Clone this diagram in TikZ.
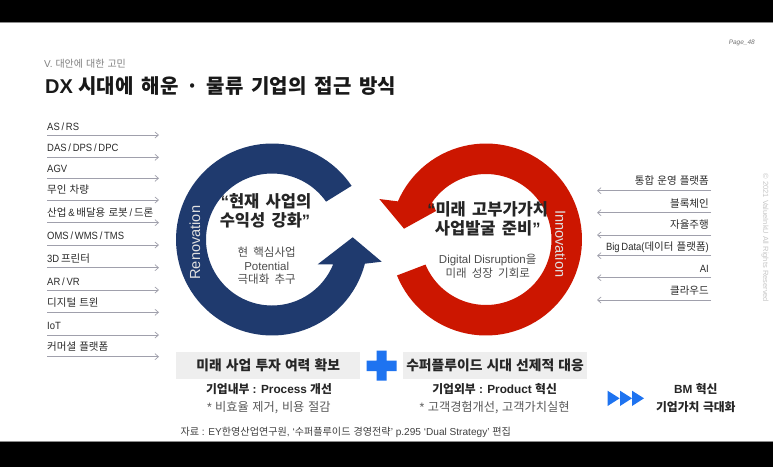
\documentclass[tikz,border=0pt]{standalone}
\usepackage{fontspec}
\setmainfont{Liberation Sans}
\newfontfamily\krf{Noto Sans CJK KR}
\newfontfamily\tightf[FakeStretch=0.9]{Liberation Sans}
\newcommand\krsp{.3}
\newcommand\K[1]{{\krf\spaceskip=\krsp em\relax #1}}
\newcommand\itemfont{\fontsize{10.5}{12}\selectfont\tightf\spaceskip=.17em\relax}
\newcommand\quotefont{\fontsize{16.5}{19}\selectfont\bfseries\renewcommand\krsp{.38}}
\newcommand\subfont{\fontsize{11.5}{13}\selectfont\renewcommand\krsp{.45}}
\newcommand\titlefont{\fontsize{20}{22}\selectfont\bfseries\renewcommand\krsp{.4}}
\usetikzlibrary{arrows.meta}
\definecolor{ringblue}{HTML}{1F3A6E}
\definecolor{ringred}{HTML}{CC1600}
\definecolor{plusblue}{HTML}{1E73F0}
\definecolor{boxgray}{HTML}{EEEEEE}
\definecolor{linegray}{HTML}{A0A0AC}
\definecolor{txt}{HTML}{2A2A2A}
\tikzset{
 x=1pt,y=-1pt,
 item/.style={inner sep=0pt,font=\itemfont,text=txt},
 conn/.style={draw=linegray,line width=0.7pt,-{Straight Barb[length=3.5pt,width=6pt]}},
 quote/.style={inner sep=0pt,font=\quotefont,text=black!85},
 sub/.style={inner sep=0pt,font=\subfont,text=black!70},
 ringlabel/.style={inner sep=0pt,font=\fontsize{14.6}{18}\selectfont,text=white!88!black},
 graybox/.style={fill=boxgray,draw=none,inner sep=0pt,font=\fontsize{13.8}{16}\selectfont\bfseries,text=black!85},
 head/.style={inner sep=0pt,font=\fontsize{11.8}{14}\selectfont\bfseries,text=black!85},
 note/.style={inner sep=0pt,font=\fontsize{12.2}{14}\selectfont,text=black!65},
}
\begin{document}
\begin{tikzpicture}
\useasboundingbox (0,0) rectangle (773,467);
\fill[white] (0,0) rectangle (773,467);
\fill[black] (0,0) rectangle (773,21.5);
\fill[black] (0,441.5) rectangle (773,467);
\fill[black!45] (0,21.5) rectangle (773,22);
\fill[black!45] (0,441) rectangle (773,441.5);
% header
\node[inner sep=0pt,anchor=west,text=black!50,font=\fontsize{10}{12}\selectfont] (sec) at (44,63.5) {V. \K{대안에 대한 고민}};
\node[inner sep=0pt,anchor=west,text=black!90,font=\titlefont] (title) at (45,86) {DX \K{시대에 해운 · 물류 기업의 접근 방식}};
\node[inner sep=0pt,anchor=east,text=black!55,font=\fontsize{6.5}{8}\selectfont\itshape] (page) at (755,43) {Page\_48};
\node[inner sep=0pt,rotate=-90,text=black!22,font=\fontsize{7.5}{9}\selectfont] (copy) at (765,238) {© 2021 ValueInkU All Rights Reserved};
% rings
\fill[ringblue] plot[domain=-34:-345.4,samples=90] ({272+96*cos(\x)},{239.5+96*sin(\x)})
  -- (381.7,261.7) -- (352.7,237.3) -- (317.7,264.3) -- (333.3,264.3)
  -- plot[domain=-338:-35,samples=90] ({272+66*cos(\x)},{239.5+66*sin(\x)}) -- cycle;
\fill[ringred] plot[domain=158:-156.6,samples=90] ({486+96*cos(\x)},{239.5+96*sin(\x)})
  -- (379.3,199) -- (404,228.7) -- (436,211) -- (432,202)
  -- plot[domain=-145.2:157.5,samples=90] ({486+65.5*cos(\x)},{239.5+65.5*sin(\x)}) -- cycle;
\node[ringlabel,rotate=90] (reno) at (195,242.7) {Renovation};
\node[ringlabel,rotate=-90] (inno) at (560.7,243.7) {Innovation};
% ring texts
\node[quote] (q1a) at (266,201.7) {“\K{현재 사업의}};
\node[quote] (q1b) at (265,220.7) {\K{수익성 강화}”};
\node[sub] (s1a) at (266.7,252) {\K{현 핵심사업}};
\node[sub] (s1b) at (266.7,266) {Potential};
\node[sub] (s1c) at (266.7,279) {\K{극대화 추구}};
\node[quote] (q2a) at (487.7,209.3) {“\K{미래 고부가가치}};
\node[quote] (q2b) at (487.7,228.7) {\K{사업발굴 준비}”};
\node[sub] (s2a) at (487.7,260) {Digital Disruption\K{을}};
\node[sub] (s2b) at (487.7,273.3) {\K{미래 성장 기회로}};
% left list
\foreach \i/\ty/\ay/\lab in {
 1/126.7/135/{AS / RS},
 2/148/157.3/{DAS / DPS / DPC},
 3/169/178.3/{AGV},
 4/190/200/{\K{무인 차량}},
 5/213/222.7/{\K{산업} \& \K{배달용 로봇} / \K{드론}},
 6/235.7/245/{OMS / WMS / TMS},
 7/259/267.7/{3D \K{프린터}},
 8/282/290/{AR / VR},
 9/303/312.3/{\K{디지털 트윈}},
 10/325.7/335/{IoT},
 11/346.7/356.7/{\K{커머셜 플랫폼}}}{
 \node[item,anchor=west] (L\i) at (47,\ty) {\lab};
 \coordinate (La\i) at (47,\ay);
 \coordinate (Lb\i) at (159,\ay);
 \draw[conn] (La\i) -- (Lb\i);
}
% right list
\foreach \i/\ty/\ay/\lab in {
 1/180.7/190.7/{\K{통합 운영 플랫폼}},
 2/203.3/212.7/{\K{블록체인}},
 3/225/235/{\K{자율주행}},
 4/247.3/255.7/{Big Data(\K{데이터 플랫폼})},
 5/269/277.7/{AI},
 6/290.7/300/{\K{클라우드}}}{
 \node[item,anchor=east] (R\i) at (709,\ty) {\lab};
 \coordinate (Ra\i) at (711,\ay);
 \coordinate (Rb\i) at (597,\ay);
 \draw[conn] (Ra\i) -- (Rb\i);
}
% bottom
\node[graybox,minimum width=183.6pt,minimum height=27.6pt] (b1) at (268.2,365.5) {\K{미래 사업 투자 여력 확보}};
\node[graybox,minimum width=183.7pt,minimum height=27.6pt] (b2) at (495,365.5) {\K{수퍼플루이드 시대 선제적 대응}};
\fill[plusblue] (376.5,350.7) -- (386.5,350.7) -- (386.5,360.5) -- (396.5,360.5) -- (396.5,371) -- (386.5,371) -- (386.5,380.7) -- (376.5,380.7) -- (376.5,371) -- (366.5,371) -- (366.5,360.5) -- (376.5,360.5) -- cycle;
\node[head] (h1) at (269,389) {\K{기업내부} : Process \K{개선}};
\node[note] (n1) at (268.8,407.7) {* \K{비효율 제거, 비용 절감}};
\node[head] (h2) at (494.6,389) {\K{기업외부} : Product \K{혁신}};
\node[note] (n2) at (494.6,407.7) {* \K{고객경험개선, 고객가치실현}};
\foreach \xx in {607.6,620,632}{
 \fill[plusblue] (\xx,390.7) -- (\xx+12,398.3) -- (\xx,406) -- cycle;
}
\node[head] (g1) at (695.8,389) {BM \K{혁신}};
\node[head] (g2) at (695.8,407.5) {\K{기업가치 극대화}};
\node[inner sep=0pt,anchor=west,text=black!75,font=\fontsize{10.1}{12}\selectfont] (src) at (180.3,432) {\K{자료} : EY\K{한영산업연구원}, ‘\K{수퍼플루이드 경영전략}’ p.295 ‘Dual Strategy’ \K{편집}};
\end{tikzpicture}
\end{document}
